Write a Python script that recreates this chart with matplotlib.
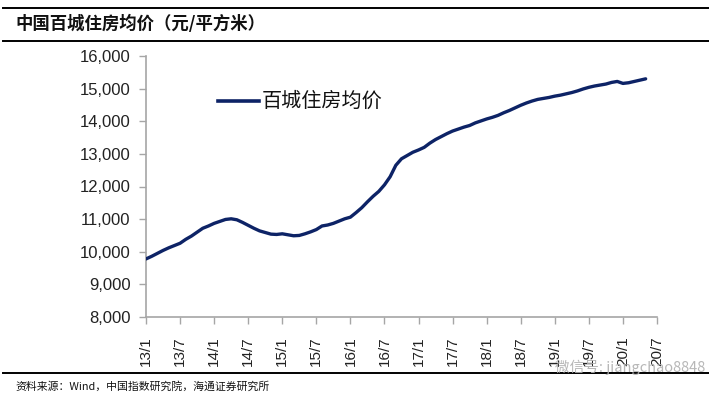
import matplotlib
matplotlib.use("Agg")
import matplotlib.pyplot as plt
from matplotlib.lines import Line2D

# ---------------- data ----------------
series_name = "百城住房均价"
title_text = "中国百城住房均价（元/平方米）"
source_text = "资料来源：Wind，中国指数研究院，海通证券研究所"
watermark_text = "微信号: jiangchao8848"

# monthly average price, 2013/1 .. 2020/5
prices = [
    9780, 9860, 9950, 10040, 10120, 10190, 10260, 10380, 10480, 10600,
    10720, 10790, 10870, 10930, 10990, 11010, 10980, 10900, 10810, 10720,
    10640, 10590, 10540, 10530, 10550, 10520, 10490, 10500, 10550, 10610,
    10680, 10790, 10820, 10870, 10940, 11010, 11060, 11200, 11350, 11530,
    11700, 11850, 12050, 12300, 12650, 12850, 12950, 13050, 13120, 13200,
    13330, 13440, 13530, 13620, 13700, 13760, 13820, 13870, 13950, 14010,
    14070, 14120, 14180, 14260, 14330, 14410, 14490, 14560, 14620, 14670,
    14700, 14730, 14770, 14800, 14840, 14880, 14930, 14990, 15040, 15080,
    15110, 15140, 15190, 15220, 15160, 15180, 15220, 15260, 15300,
]
x_labels = ["13/1", "13/7", "14/1", "14/7", "15/1", "15/7", "16/1", "16/7",
            "17/1", "17/7", "18/1", "18/7", "19/1", "19/7", "20/1", "20/7"]
y_ticks = [8000, 9000, 10000, 11000, 12000, 13000, 14000, 15000, 16000]

# ---------------- style ----------------
cjk = ["Noto Sans CJK SC", "DejaVu Sans"]
latin = ["Liberation Sans", "DejaVu Sans"]
line_color = "#0d2366"
axis_gray = "#a6a6a6"

W, H = 709, 398
fig = plt.figure(figsize=(W / 100, H / 100), dpi=100)
fig.patch.set_facecolor("white")

L, R, T, B = 146, 657, 56, 317
ax = fig.add_axes([L / W, 1 - B / H, (R - L) / W, (B - T) / H])

months = list(range(len(prices)))
ax.plot(months, prices, color=line_color, lw=2.4, solid_capstyle="round",
        solid_joinstyle="round", label=series_name, zorder=3)

ax.set_xlim(0, 6 * (len(x_labels) - 1))
ax.set_ylim(y_ticks[0], y_ticks[-1])
ax.set_yticks(y_ticks)
ax.set_yticklabels([f"{v:,}" for v in y_ticks], fontfamily=latin,
                   fontsize=12, color="#222222")
ax.set_xticks([6 * i for i in range(len(x_labels))])
ax.set_xticklabels(x_labels, rotation=90, fontfamily=latin, fontsize=11,
                   color="#222222", va="top")

for s in ["top", "right"]:
    ax.spines[s].set_visible(False)
for s in ["left", "bottom"]:
    ax.spines[s].set_color(axis_gray)
    ax.spines[s].set_linewidth(1.2)
ax.tick_params(axis="y", direction="out", length=5, width=1.0,
               color=axis_gray, pad=6)
ax.tick_params(axis="x", direction="out", length=5, width=1.0,
               color=axis_gray, pad=9)
ax.patch.set_alpha(0)

# legend (manual placement to match reference)
fig.add_artist(Line2D([218 / W, 259 / W], [1 - 101 / H, 1 - 101 / H],
                      color=line_color, lw=2.6, transform=fig.transFigure))
fig.text(262 / W, 1 - 101 / H, series_name, fontfamily=cjk, fontsize=14.5,
         va="center", ha="left", color="#111111")

# frame lines and titles
for yy, lw in [(8, 1.4), (41, 1.4), (373, 1.4)]:
    fig.add_artist(Line2D([3 / W, 1.0], [1 - yy / H, 1 - yy / H],
                          color="black", lw=lw, transform=fig.transFigure))
fig.text(15 / W, 1 - 24 / H, title_text, fontfamily=cjk, fontsize=12.5,
         fontweight="bold", va="center", ha="left", color="#111111")
fig.text(15 / W, 1 - 386 / H, source_text, fontfamily=cjk, fontsize=7.8,
         va="center", ha="left", color="#111111")

# watermark
fig.text(555 / W, 1 - 367 / H, watermark_text, fontfamily=cjk, fontsize=10.5,
         va="center", ha="left", color="#b0b0b0", alpha=0.9)

fig.savefig("out.png", dpi=100, facecolor="white")
